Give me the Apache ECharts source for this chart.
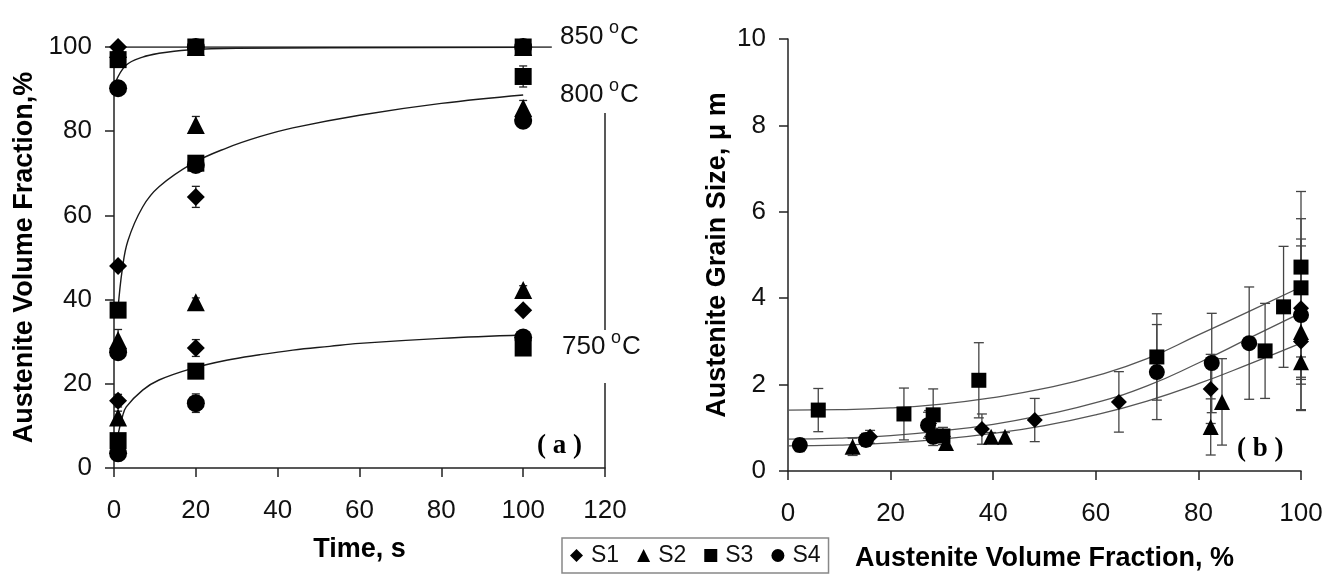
<!DOCTYPE html>
<html><head><meta charset="utf-8">
<script src="https://cdn.jsdelivr.net/npm/echarts@6/dist/echarts.min.js"></script>
<style>html,body{margin:0;padding:0;background:#fff}#c{width:1341px;height:579px}</style>
</head><body><div id="c"></div>
<script>
// ===== Panel (a): austenite volume fraction vs time =====
const timeS = [1, 20, 100];
const s1_750 = [16, 28.5, 37.5], s1_800 = [48, 64.4, 82.7], s1_850 = [100, 100, 100];
const s2_750 = [12, 39.4, 42.3], s2_800 = [30.4, 81.5, 85.5], s2_850 = [99.5, 100, 100];
const s3_750 = [6.5, 23, 28.5], s3_800 = [37.5, 72.4, 93], s3_850 = [97, 100, 100];
const s4_750 = [3.5, 15.4, 31], s4_800 = [27.5, 72, 82.5], s4_850 = [90.2, 100, 100];
const e1_750 = [1.5, 2, 1], e1_800 = [1, 2.5, 1.5], e1_850 = [0.5, 0, 0];
const e2_750 = [1.5, 1, 1], e2_800 = [2.5, 2, 1.8], e2_850 = [0.5, 0, 0];
const e3_750 = [1, 1, 1], e3_800 = [1.5, 1.5, 2.5], e3_850 = [1, 0, 0];
const e4_750 = [1, 2.2, 1], e4_800 = [1.5, 1.5, 1.5], e4_850 = [1.5, 0, 0];
// fitted curves
const fit750 = [[1,8],[2,12],[3,14.5],[7,18.5],[11,20.9],[19.3,23.7],[27.5,25.6],[35.6,26.9],[43.7,28],[52.7,28.9],[60,29.6],[80,30.8],[100,31.6]];
const fit800 = [[1,38],[2,47],[3.4,54],[7,62],[11,66.8],[19.3,72.4],[27.5,76],[35.6,78.7],[43.7,80.8],[60,83.8],[80,86.6],[100,88.6]];
const fit850 = [[0.3,91.5],[3,95.7],[7,97.6],[11,98.5],[18,99.3],[30,99.7],[100,99.9]];
const line850 = [[0,100],[107,100]];
const timeTicks = [0, 20, 40, 60, 80, 100, 120];
const fracTicksA = [0, 20, 40, 60, 80, 100];

// ===== Panel (b): grain size vs volume fraction =====
const b1x = [16, 27.5, 37.8, 48.1, 64.5, 82.4, 100, 100];
const b1y = [0.79, 1.1, 0.97, 1.18, 1.6, 1.9, 3.77, 3.0];
const b1e = [0.15, 0.3, 0.35, 0.5, 0.7, 0.8, 1.6, 1.6];
const b2x = [12.6, 30.8, 39.6, 42.3, 82.4, 84.6, 100, 100];
const b2y = [0.56, 0.65, 0.79, 0.79, 1.02, 1.6, 3.22, 2.52];
const b2e = [0.2, 0.15, 0.1, 0.1, 0.65, 1.0, 1.1, 1.1];
const b3x = [5.9, 22.6, 28.3, 30.2, 37.2, 71.9, 93, 96.6, 100, 100];
const b3y = [1.41, 1.32, 1.3, 0.81, 2.1, 2.64, 2.78, 3.8, 4.72, 4.24];
const b3e = [0.5, 0.6, 0.6, 0.2, 0.87, 1.0, 1.1, 1.4, 1.75, 1.6];
const b4x = [2.3, 15.2, 27.3, 28.3, 71.9, 82.6, 89.9, 100];
const b4y = [0.6, 0.72, 1.06, 0.79, 2.29, 2.5, 2.96, 3.61];
const b4e = [0.15, 0.15, 0.3, 0.2, 1.1, 1.15, 1.3, 1.6];
const fitTop = [[0,1.41],[10,1.42],[20,1.46],[30,1.55],[40,1.7],[50,1.91],[60,2.2],[70,2.6],[80,3.15],[90,3.7],[100,4.26]];
const fitMid = [[0,0.74],[10,0.76],[20,0.82],[30,0.93],[40,1.08],[50,1.3],[60,1.58],[70,1.97],[80,2.5],[90,3.08],[100,3.66]];
const fitBot = [[0,0.58],[10,0.6],[20,0.65],[30,0.74],[40,0.87],[50,1.05],[60,1.3],[70,1.62],[80,2.02],[90,2.48],[100,2.96]];

const steels = ['S1', 'S2', 'S3', 'S4'];
const shapes = ['diamond', 'triangle', 'rect', 'circle'];
const FONT = '"Liberation Sans", Arial, sans-serif';

function ptsA(arrs) { const out = []; arrs.forEach(a => a.forEach((v, i) => out.push([timeS[i], v]))); return out; }
function errA(vals, errs) { const out = []; vals.forEach((a, k) => a.forEach((v, i) => { if (errs[k][i] > 0) out.push([timeS[i], v - errs[k][i], v + errs[k][i]]); })); return out; }
function ptsB(xs, ys) { return xs.map((x, i) => [x, ys[i]]); }
function errB(xs, ys, es) { return xs.map((x, i) => [x, ys[i] - es[i], ys[i] + es[i]]); }

const aVals = [[s1_750, s1_800, s1_850], [s2_750, s2_800, s2_850], [s3_750, s3_800, s3_850], [s4_750, s4_800, s4_850]];
const aErrs = [[e1_750, e1_800, e1_850], [e2_750, e2_800, e2_850], [e3_750, e3_800, e3_850], [e4_750, e4_800, e4_850]];
const bX = [b1x, b2x, b3x, b4x], bY = [b1y, b2y, b3y, b4y], bE = [b1e, b2e, b3e, b4e];

function errRender(cap, color) {
  return function (params, api) {
    const x = api.value(0), lo = api.value(1), hi = api.value(2);
    const a = api.coord([x, lo]), b = api.coord([x, hi]);
    const st = { stroke: color, lineWidth: 1.3 };
    return { type: 'group', children: [
      { type: 'line', shape: { x1: a[0], y1: a[1], x2: b[0], y2: b[1] }, style: st },
      { type: 'line', shape: { x1: a[0] - cap, y1: a[1], x2: a[0] + cap, y2: a[1] }, style: st },
      { type: 'line', shape: { x1: b[0] - cap, y1: b[1], x2: b[0] + cap, y2: b[1] }, style: st }
    ] };
  };
}

const series = [];
// panel a curves
[fit750, fit800, fit850, line850].forEach((d, i) => {
  const s = { type: 'line', xAxisIndex: 0, yAxisIndex: 0, data: d, smooth: i < 3 ? 0.4 : false, symbol: 'none',
    lineStyle: { color: '#1a1a1a', width: 1.4 }, z: 2, silent: true };
  if (i === 0) {
    s.markLine = { silent: true, symbol: 'none', label: { show: false },
      lineStyle: { color: '#222', width: 1.5, type: 'solid' },
      data: [[{ coord: [120, 0] }, { coord: [120, 20.2] }], [{ coord: [120, 32.8] }, { coord: [120, 84.3] }]] };
  }
  series.push(s);
});
// panel b curves
[fitTop, fitMid, fitBot].forEach(d => series.push({ type: 'line', xAxisIndex: 1, yAxisIndex: 1, data: d, smooth: 0.5,
  symbol: 'none', lineStyle: { color: '#555', width: 1.3 }, z: 2, silent: true }));
// error bars
steels.forEach((n, k) => {
  series.push({ type: 'custom', xAxisIndex: 0, yAxisIndex: 0, data: errA(aVals[k], aErrs[k]),
    renderItem: errRender(4, '#222'), encode: { x: 0, y: [1, 2] }, z: 3, silent: true });
  series.push({ type: 'custom', xAxisIndex: 1, yAxisIndex: 1, data: errB(bX[k], bY[k], bE[k]),
    renderItem: errRender(5, '#444'), encode: { x: 0, y: [1, 2] }, z: 3, silent: true });
});
// markers
steels.forEach((n, k) => {
  series.push({ name: n, type: 'scatter', xAxisIndex: 0, yAxisIndex: 0, data: ptsA(aVals[k]), symbol: shapes[k],
    symbolSize: shapes[k] === 'rect' ? 17 : 18, itemStyle: { color: '#000', opacity: 1 }, z: 4 });
  series.push({ name: n, type: 'scatter', xAxisIndex: 1, yAxisIndex: 1, data: ptsB(bX[k], bY[k]), symbol: shapes[k],
    symbolSize: shapes[k] === 'rect' ? 15 : 16, itemStyle: { color: '#000', opacity: 1 }, z: 4 });
});

const axisCommon = {
  axisLine: { show: true, lineStyle: { color: '#222', width: 1.5 } },
  axisTick: { show: true, inside: false, length: 9, lineStyle: { color: '#222', width: 1.5 } },
  splitLine: { show: false },
  nameTextStyle: { fontFamily: FONT, fontWeight: 'bold', fontSize: 27, color: '#000' }
};
const lab = (m) => ({ fontFamily: FONT, fontSize: 26, color: '#111', margin: m });

function tempLabel(t, x, y) {
  return [
    { type: 'text', x: x, y: y, style: { text: t, font: '26px ' + FONT, fill: '#111', verticalAlign: 'middle', align: 'left' } },
    { type: 'text', x: x + 49, y: y - 9, style: { text: 'o', font: '18px ' + FONT, fill: '#111', verticalAlign: 'middle', align: 'left' } },
    { type: 'text', x: x + 60, y: y, style: { text: 'C', font: '26px ' + FONT, fill: '#111', verticalAlign: 'middle', align: 'left' } }
  ];
}

const option = {
  backgroundColor: '#fff',
  animation: false,
  grid: [
    { left: 114, right: 736, top: 47, bottom: 111, containLabel: false },
    { left: 788, right: 40, top: 39, bottom: 108, containLabel: false }
  ],
  xAxis: [
    Object.assign({}, axisCommon, { gridIndex: 0, type: 'value', min: timeTicks[0], max: timeTicks[timeTicks.length - 1], interval: 20,
      name: 'Time, s', nameLocation: 'middle', nameGap: 68, axisLabel: lab(30) }),
    Object.assign({}, axisCommon, { gridIndex: 1, type: 'value', min: 0, max: 100, interval: 20,
      name: 'Austenite Volume Fraction, %', nameLocation: 'middle', nameGap: 74, axisLabel: lab(30) })
  ],
  yAxis: [
    Object.assign({}, axisCommon, { gridIndex: 0, type: 'value', min: fracTicksA[0], max: fracTicksA[fracTicksA.length - 1], interval: 20,
      name: 'Austenite Volume Fraction,%', nameLocation: 'middle', nameGap: 76, axisLabel: lab(22) }),
    Object.assign({}, axisCommon, { gridIndex: 1, type: 'value', min: 0, max: 10, interval: 2,
      name: 'Austenite Grain Size, \u03bc m', nameLocation: 'middle', nameGap: 57, axisLabel: lab(22) })
  ],
  legend: {
    data: steels, left: 562, top: 538, orient: 'horizontal',
    borderColor: '#888', borderWidth: 1.5, padding: [6, 8, 6, 8],
    itemWidth: 13, itemHeight: 13, itemGap: 18,
    itemStyle: { opacity: 1, color: '#000' },
    textStyle: { fontFamily: FONT, fontSize: 23, color: '#111', padding: [0, 0, 0, 3] }
  },
  graphic: [].concat(
    tempLabel('850', 560, 37),
    tempLabel('800', 560, 95),
    tempLabel('750', 562, 347),
    [
      { type: 'text', x: 537, y: 446, style: { text: '( a )', font: 'bold 27px "Liberation Serif", serif', fill: '#000', verticalAlign: 'middle' } },
      { type: 'text', x: 1237, y: 449, style: { text: '( b )', font: 'bold 27px "Liberation Serif", serif', fill: '#000', verticalAlign: 'middle' } }
    ]
  ),
  series: series
};
const chart = echarts.init(document.getElementById('c'));
chart.setOption(option);
</script></body></html>
